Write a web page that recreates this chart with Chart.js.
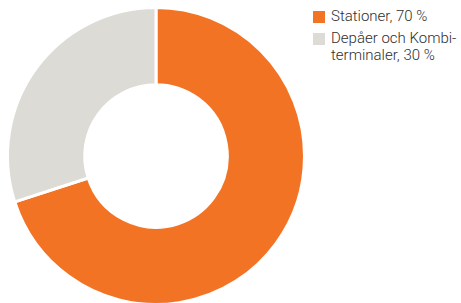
<!DOCTYPE html>
<html>
<head>
<meta charset="utf-8">
<script src="https://cdn.jsdelivr.net/npm/chart.js@4"></script>
<style>
  html, body { margin: 0; padding: 0; background: #fff; }
  #wrap { position: relative; width: 461px; height: 303px; overflow: hidden; }
  #pane { position: absolute; left: 0; top: 0; width: 306px; height: 306px; }
  #legend { position: absolute; left: 313px; top: 8px; font-family: Roboto, sans-serif; font-weight: 300; font-size: 15px; color: #2e2e2e; line-height: 17px; }
  .item { display: flex; align-items: flex-start; margin-bottom: 5px; }
  .box { width: 12px; height: 12px; margin-top: 3px; margin-right: 6px; flex: none; }
</style>
</head>
<body>
<div id="wrap">
  <div id="pane"><canvas id="donut"></canvas></div>
  <div id="legend"></div>
</div>
<script>
/* ==== data ========================================================= */
const labels = ['Stationer, 70 %', 'Depåer och Kombi-\nterminaler, 30 %'];
const shares = [70, 30];
const colors = ['#F37324', '#DCDBD6'];

/* ==== chart ======================================================== */
new Chart(document.getElementById('donut'), {
  type: 'doughnut',
  data: {
    labels: labels.map(l => l.replace('-\n', '')),
    datasets: [{ data: shares, backgroundColor: colors, borderColor: '#fff', borderWidth: 3, hoverOffset: 0 }]
  },
  options: {
    responsive: true, maintainAspectRatio: false, animation: false,
    cutout: '48%',
    layout: { padding: { left: 6, top: 6, right: 0, bottom: 0 } },
    plugins: { legend: { display: false }, tooltip: { enabled: false } }
  }
});

/* ==== legend ======================================================= */
document.getElementById('legend').innerHTML = labels.map((l, i) =>
  `<div class="item"><span class="box" style="background:${colors[i]}"></span><span>${l.replace('\n', '<br>')}</span></div>`
).join('');
</script>
</body>
</html>
